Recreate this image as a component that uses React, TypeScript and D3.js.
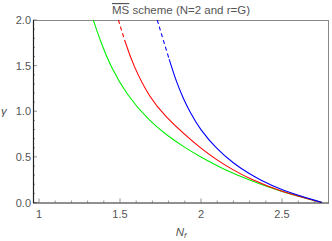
import { useEffect, useRef } from "react";
import * as d3 from "d3";

type Pt = [number, number];

// values (N_f, gamma)
const greenCurve: Pt[] = [
  [1.335, 2.0], [1.385, 1.74], [1.438, 1.507], [1.541, 1.178], [1.685, 0.886],
  [1.788, 0.74], [1.891, 0.612], [1.994, 0.502], [2.097, 0.405], [2.199, 0.318],
  [2.302, 0.245], [2.488, 0.122], [2.747, 0],
];

const redCurve: Pt[] = [
  [1.49, 2.0], [1.531, 1.762], [1.582, 1.5], [1.685, 1.14], [1.788, 0.93],
  [1.891, 0.758], [1.994, 0.6], [2.097, 0.466], [2.199, 0.355], [2.302, 0.258],
  [2.488, 0.12], [2.747, 0],
];
const redDashAbove = 1.76;

const blueCurve: Pt[] = [
  [1.73, 2.0], [1.798, 1.598], [1.85, 1.31], [1.891, 1.14], [1.932, 0.99],
  [1.994, 0.8], [2.097, 0.585], [2.199, 0.43], [2.302, 0.31], [2.364, 0.25],
  [2.488, 0.14], [2.747, 0],
];
const blueDashAbove = 1.57;

const xTicks = [1, 1.5, 2, 2.5];
const xTickLabels = ["1", "1.5", "2", "2.5"];
const yTicks = [0, 0.5, 1, 1.5, 2];
const yTickLabels = ["0.0", "0.5", "1.0", "1.5", "2.0"];

export default function App() {
  const ref = useRef<SVGSVGElement | null>(null);

  useEffect(() => {
    if (!ref.current) return;
    const svg = d3.select(ref.current);
    svg.selectAll("*").remove();

    const width = 332;
    const height = 241;
    const margin = { top: 20, right: 3, bottom: 38.5, left: 33 };
    const font = "'Liberation Sans', Arial, sans-serif";
    const textColor = "#555";

    const x = d3
      .scaleLinear()
      .domain([0.963, 2.79])
      .range([margin.left, width - margin.right]);
    const y = d3
      .scaleLinear()
      .domain([0, 2])
      .range([height - margin.bottom, margin.top]);

    const x0 = margin.left;
    const x1 = width - margin.right;
    const y0 = height - margin.bottom;
    const y1 = margin.top;

    // clip regions for the dashed (top) and solid (bottom) parts
    const defs = svg.append("defs");
    const addClip = (id: string, top: number, bottom: number) => {
      defs.append("clipPath").attr("id", id)
        .append("rect").attr("x", x0).attr("width", x1 - x0)
        .attr("y", top).attr("height", bottom - top);
    };
    addClip("plot-clip", y1, y0 + 1);
    addClip("red-dash", y1, y(redDashAbove));
    addClip("red-solid", y(redDashAbove), y0 + 1);
    addClip("blue-dash", y1, y(blueDashAbove));
    addClip("blue-solid", y(blueDashAbove), y0 + 1);

    // frame: top / right gray
    svg.append("line").attr("x1", x0).attr("x2", x1).attr("y1", y1 + 0.5).attr("y2", y1 + 0.5)
      .attr("stroke", "#888").attr("stroke-width", 1);
    svg.append("line").attr("x1", x1 - 0.5).attr("x2", x1 - 0.5).attr("y1", y1).attr("y2", y0)
      .attr("stroke", "#888").attr("stroke-width", 1);

    // minor + major ticks
    const ticks = svg.append("g").attr("stroke", "#777").attr("stroke-width", 0.8);
    d3.range(10, 28).forEach((k) => {
      const v = k / 10;
      const major = k % 5 === 0;
      ticks.append("line").attr("x1", x(v)).attr("x2", x(v))
        .attr("y1", y0).attr("y2", y0 - (major ? 4 : 2));
    });
    d3.range(0, 21).forEach((k) => {
      const v = k / 10;
      const major = k % 5 === 0;
      ticks.append("line").attr("x1", x0).attr("x2", x0 + (major ? 4 : 2))
        .attr("y1", y(v)).attr("y2", y(v));
    });

    // tick labels
    xTicks.forEach((v, i) => {
      svg.append("text").attr("x", x(v)).attr("y", y0 + 15)
        .attr("text-anchor", "middle").attr("font-family", font).attr("font-size", 11)
        .attr("fill", textColor).text(xTickLabels[i]);
    });
    yTicks.forEach((v, i) => {
      svg.append("text").attr("x", x0 - 2).attr("y", y(v) + 4)
        .attr("text-anchor", "end").attr("font-family", font).attr("font-size", 11)
        .attr("fill", textColor).text(yTickLabels[i]);
    });

    // curves (basis smoothing evens out reading noise)
    const line = d3
      .line<Pt>()
      .x((d) => x(d[0]))
      .y((d) => y(d[1]))
      .curve(d3.curveBasis);
    const plot = svg.append("g").attr("fill", "none").attr("stroke-width", 1.1);
    plot.append("path").attr("d", line(greenCurve)).attr("stroke", "#00ee00")
      .attr("clip-path", "url(#plot-clip)");
    plot.append("path").attr("d", line(redCurve)).attr("stroke", "#ff0000")
      .attr("stroke-dasharray", "4,3").attr("clip-path", "url(#red-dash)");
    plot.append("path").attr("d", line(redCurve)).attr("stroke", "#ff0000")
      .attr("clip-path", "url(#red-solid)");
    plot.append("path").attr("d", line(blueCurve)).attr("stroke", "#0000ff")
      .attr("stroke-dasharray", "4,3").attr("clip-path", "url(#blue-dash)");
    plot.append("path").attr("d", line(blueCurve)).attr("stroke", "#0000ff")
      .attr("clip-path", "url(#blue-solid)");

    // left / bottom axis lines
    svg.append("line").attr("x1", x0 + 0.5).attr("x2", x0 + 0.5).attr("y1", y1).attr("y2", y0 + 0.5)
      .attr("stroke", "#222").attr("stroke-width", 1.2);
    svg.append("line").attr("x1", x0).attr("x2", x1).attr("y1", y0 + 0.5).attr("y2", y0 + 0.5)
      .attr("stroke", "#222").attr("stroke-width", 1.2);

    // title with overline on MS
    const title = svg.append("text").attr("x", (x0 + x1) / 2).attr("y", 14)
      .attr("text-anchor", "middle").attr("font-family", font).attr("font-size", 11.5)
      .attr("fill", textColor);
    title.append("tspan").style("text-decoration", "overline").text("MS");
    title.append("tspan").text(" scheme (N=2 and r=G)");

    // axis labels
    const xl = svg.append("text").attr("x", (x0 + x1) / 2).attr("y", 236)
      .attr("text-anchor", "middle").attr("font-family", font).attr("font-size", 11.5)
      .attr("fill", textColor).attr("font-style", "italic");
    xl.append("tspan").text("N");
    xl.append("tspan").attr("font-size", 8).attr("dy", 2).text("f");

    svg.append("text").attr("x", 1).attr("y", y(1) + 4)
      .attr("font-family", font).attr("font-size", 11.5).attr("font-style", "italic")
      .attr("fill", textColor).text("γ");
  }, []);

  return (
    <svg
      ref={ref}
      width={332}
      height={241}
      style={{ position: "absolute", left: 0, top: 0, background: "#fff" }}
    />
  );
}
